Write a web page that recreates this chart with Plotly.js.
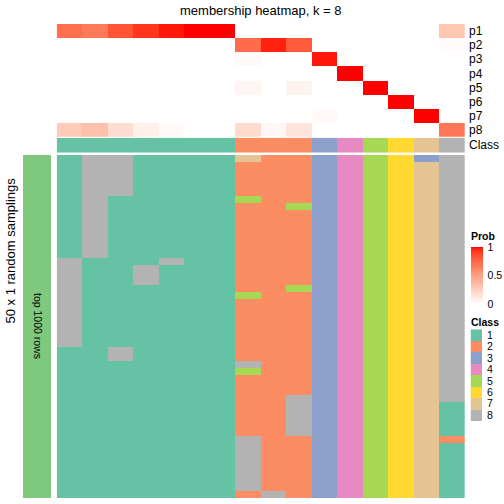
<!DOCTYPE html>
<html>
<head>
<meta charset="utf-8">
<script src="https://cdn.plot.ly/plotly-3.0.1.min.js"></script>
<style>html,body{margin:0;padding:0;background:#fff;}#chart{width:504px;height:504px;}</style>
</head>
<body>
<div id="chart"></div>
<script>
// ---------------- DATA ----------------
const probRows = ["p1","p2","p3","p4","p5","p6","p7","p8"];
const sampleIdx = [0,1,2,3,4,5,6,7,8,9,10,11,12,13,14,15];
const p1 = [0.72,0.67,0.82,0.92,0.97,1.00,1.00,0.00,0.00,0.00,0.00,0.00,0.00,0.00,0.00,0.30];
const p2 = [0.00,0.00,0.00,0.00,0.00,0.00,0.00,0.73,0.96,0.80,0.00,0.00,0.00,0.00,0.00,0.02];
const p3 = [0.00,0.00,0.00,0.00,0.00,0.00,0.00,0.03,0.00,0.00,0.97,0.00,0.00,0.00,0.00,0.00];
const p4 = [0.00,0.00,0.00,0.00,0.00,0.00,0.00,0.00,0.00,0.00,0.00,1.00,0.00,0.00,0.00,0.00];
const p5 = [0.00,0.00,0.00,0.00,0.00,0.00,0.00,0.05,0.00,0.06,0.00,0.00,1.00,0.00,0.00,0.00];
const p6 = [0.00,0.00,0.00,0.00,0.00,0.00,0.00,0.00,0.00,0.00,0.00,0.00,0.00,1.00,0.00,0.00];
const p7 = [0.00,0.00,0.00,0.00,0.00,0.00,0.00,0.00,0.00,0.00,0.03,0.00,0.00,0.00,1.00,0.00];
const p8 = [0.28,0.33,0.18,0.08,0.03,0.00,0.00,0.19,0.04,0.14,0.00,0.00,0.00,0.00,0.00,0.68];
const sampleClass = [1,1,1,1,1,1,1,2,2,2,3,4,5,6,7,8];
const classLabels = ["1","2","3","4","5","6","7","8"];
const probTicks = [0, 0.5, 1];
const probTickText = ["0","0.5","1"];

// class assignment in each of the 50 random samplings, one array per sample (column)
const s1  = [1,1,1,1,1,1,1,1,1,1,1,1,1,1,1,8,8,8,8,8,8,8,8,8,8,8,8,8,1,1,1,1,1,1,1,1,1,1,1,1,1,1,1,1,1,1,1,1,1,1];
const s2  = [8,8,8,8,8,8,8,8,8,8,8,8,8,8,8,1,1,1,1,1,1,1,1,1,1,1,1,1,1,1,1,1,1,1,1,1,1,1,1,1,1,1,1,1,1,1,1,1,1,1];
const s3  = [8,8,8,8,8,8,1,1,1,1,1,1,1,1,1,1,1,1,1,1,1,1,1,1,1,1,1,1,8,8,1,1,1,1,1,1,1,1,1,1,1,1,1,1,1,1,1,1,1,1];
const s4  = [1,1,1,1,1,1,1,1,1,1,1,1,1,1,1,1,8,8,8,1,1,1,1,1,1,1,1,1,1,1,1,1,1,1,1,1,1,1,1,1,1,1,1,1,1,1,1,1,1,1];
const s5  = [1,1,1,1,1,1,1,1,1,1,1,1,1,1,1,8,1,1,1,1,1,1,1,1,1,1,1,1,1,1,1,1,1,1,1,1,1,1,1,1,1,1,1,1,1,1,1,1,1,1];
const s6  = [1,1,1,1,1,1,1,1,1,1,1,1,1,1,1,1,1,1,1,1,1,1,1,1,1,1,1,1,1,1,1,1,1,1,1,1,1,1,1,1,1,1,1,1,1,1,1,1,1,1];
const s7  = [1,1,1,1,1,1,1,1,1,1,1,1,1,1,1,1,1,1,1,1,1,1,1,1,1,1,1,1,1,1,1,1,1,1,1,1,1,1,1,1,1,1,1,1,1,1,1,1,1,1];
const s8  = [7,2,2,2,2,2,5,2,2,2,2,2,2,2,2,2,2,2,2,2,5,2,2,2,2,2,2,2,2,2,8,5,2,2,2,2,2,2,2,2,2,8,8,8,8,8,8,8,8,2];
const s9  = [2,2,2,2,2,2,2,2,2,2,2,2,2,2,2,2,2,2,2,2,2,2,2,2,2,2,2,2,2,2,2,2,2,2,2,2,2,2,2,2,2,2,2,2,2,2,2,2,2,8];
const s10 = [2,2,2,2,2,2,2,5,2,2,2,2,2,2,2,2,2,2,2,5,2,2,2,2,2,2,2,2,2,2,2,2,2,2,2,8,8,8,8,8,8,2,2,2,2,2,2,2,2,2];
const s11 = [3,3,3,3,3,3,3,3,3,3,3,3,3,3,3,3,3,3,3,3,3,3,3,3,3,3,3,3,3,3,3,3,3,3,3,3,3,3,3,3,3,3,3,3,3,3,3,3,3,3];
const s12 = [4,4,4,4,4,4,4,4,4,4,4,4,4,4,4,4,4,4,4,4,4,4,4,4,4,4,4,4,4,4,4,4,4,4,4,4,4,4,4,4,4,4,4,4,4,4,4,4,4,4];
const s13 = [5,5,5,5,5,5,5,5,5,5,5,5,5,5,5,5,5,5,5,5,5,5,5,5,5,5,5,5,5,5,5,5,5,5,5,5,5,5,5,5,5,5,5,5,5,5,5,5,5,5];
const s14 = [6,6,6,6,6,6,6,6,6,6,6,6,6,6,6,6,6,6,6,6,6,6,6,6,6,6,6,6,6,6,6,6,6,6,6,6,6,6,6,6,6,6,6,6,6,6,6,6,6,6];
const s15 = [3,7,7,7,7,7,7,7,7,7,7,7,7,7,7,7,7,7,7,7,7,7,7,7,7,7,7,7,7,7,7,7,7,7,7,7,7,7,7,7,7,7,7,7,7,7,7,7,7,7];
const s16 = [8,8,8,8,8,8,8,8,8,8,8,8,8,8,8,8,8,8,8,8,8,8,8,8,8,8,8,8,8,8,8,8,8,8,8,8,1,1,1,1,1,2,1,1,1,1,1,1,1,1];

// ---------------- STYLE ----------------
const W = 504, H = 504;
const FONT = "Liberation Sans, Arial, Helvetica, sans-serif";
const classColors = ["#66C2A5","#FC8D62","#8DA0CB","#E78AC3","#A6D854","#FFD92F","#E5C494","#B3B3B3"];
const topBarColor = "#7FC97F";

function px2x(p){ return p / W; }
function px2y(p){ return 1 - p / H; }

// white -> red interpolated in CIELAB (as circlize colorRamp2 does)
function lab2rgb(L, a, b){
  let y = (L + 16) / 116, x = a / 500 + y, z = y - b / 200;
  const f = t => (t*t*t > 0.008856) ? t*t*t : (t - 16/116) / 7.787;
  x = 0.95047 * f(x); y = 1.0 * f(y); z = 1.08883 * f(z);
  let r = x*3.2406 + y*-1.5372 + z*-0.4986;
  let g = x*-0.9689 + y*1.8758 + z*0.0415;
  let bb = x*0.0557 + y*-0.2040 + z*1.0570;
  const gc = c => { c = c > 0.0031308 ? 1.055*Math.pow(c, 1/2.4) - 0.055 : 12.92*c; return Math.round(Math.max(0, Math.min(1, c))*255); };
  return "rgb(" + gc(r) + "," + gc(g) + "," + gc(bb) + ")";
}
const probScale = [];
for (let i = 0; i <= 20; i++) {
  const t = i / 20;
  probScale.push([t, lab2rgb(100 - 46.76*t, 80.09*t, 67.20*t)]);
}
const classScale = [];
classColors.forEach((c, i) => { classScale.push([i/8, c]); classScale.push([(i+1)/8, c]); });

// ---------------- TRACES ----------------
const probZ = [p1,p2,p3,p4,p5,p6,p7,p8];
const samplings = [s1,s2,s3,s4,s5,s6,s7,s8,s9,s10,s11,s12,s13,s14,s15,s16];
const nRuns = s1.length;
const runIdx = []; for (let r = 0; r < nRuns; r++) runIdx.push(r);
const runZ = runIdx.map(r => samplings.map(col => col[r]));

const traces = [
  { type: "heatmap", x: sampleIdx, y: probRows, z: probZ, xaxis: "x", yaxis: "y",
    colorscale: probScale, zmin: 0, zmax: 1, hoverinfo: "skip",
    colorbar: { x: px2x(470.5), xanchor: "left", xref: "paper", y: px2y(247), yanchor: "top", yref: "paper",
      len: 57, lenmode: "pixels", thickness: 11.5, thicknessmode: "pixels",
      outlinewidth: 0, xpad: 0, ypad: 0, tickmode: "array", tickvals: probTicks, ticktext: probTickText,
      ticks: "outside", ticklen: 3, tickcolor: "#ffffff",
      tickfont: { family: FONT, size: 10.5, color: "#000" } } },
  { type: "heatmap", x: sampleIdx, y: ["Class"], z: [sampleClass], xaxis: "x", yaxis: "y2",
    colorscale: classScale, zmin: 0.5, zmax: 8.5, showscale: false, hoverinfo: "skip" },
  { type: "heatmap", x: sampleIdx, y: runIdx, z: runZ, xaxis: "x", yaxis: "y3",
    colorscale: classScale, zmin: 0.5, zmax: 8.5, showscale: false, hoverinfo: "skip" },
  { type: "heatmap", x: [0], y: [0], z: [[1]], xaxis: "x2", yaxis: "y4",
    colorscale: [[0, topBarColor],[1, topBarColor]], showscale: false, hoverinfo: "skip" },
  { type: "heatmap", x: [0], y: classLabels, z: classLabels.map(v => [Number(v)]), xaxis: "x3", yaxis: "y5",
    colorscale: classScale, zmin: 0.5, zmax: 8.5, showscale: false, hoverinfo: "skip" }
];

const hidden = { showgrid: false, zeroline: false, showticklabels: false, ticks: "", showline: false, fixedrange: true };
const mainX = [px2x(56.7), px2x(465)];
const layout = {
  width: W, height: H, margin: { l: 0, r: 0, t: 0, b: 0, pad: 0 },
  paper_bgcolor: "#fff", plot_bgcolor: "#fff",
  font: { family: FONT, size: 12, color: "#000" },
  showlegend: false,
  xaxis:  Object.assign({}, hidden, { domain: mainX, anchor: "y3", range: [-0.5, 15.5] }),
  yaxis:  Object.assign({}, hidden, { domain: [px2y(136.7), px2y(24)], anchor: "x", autorange: "reversed",
            side: "right", showticklabels: true, ticklabelstandoff: 3, tickmode: "array", tickvals: probRows,
            tickfont: { family: FONT, size: 12, color: "#000" }, type: "category" }),
  yaxis2: Object.assign({}, hidden, { domain: [px2y(152.7), px2y(137.7)], anchor: "x",
            side: "right", showticklabels: true, ticklabelstandoff: 3,
            tickfont: { family: FONT, size: 12, color: "#000" }, type: "category" }),
  yaxis3: Object.assign({}, hidden, { domain: [px2y(498), px2y(155)], anchor: "x", autorange: "reversed" }),
  xaxis2: Object.assign({}, hidden, { domain: [px2x(23), px2x(51)], anchor: "y4" }),
  yaxis4: Object.assign({}, hidden, { domain: [px2y(498), px2y(155)], anchor: "x2" }),
  xaxis3: Object.assign({}, hidden, { domain: [px2x(470.5), px2x(482)], anchor: "y5" }),
  yaxis5: Object.assign({}, hidden, { domain: [px2y(421), px2y(329.3)], anchor: "x3", autorange: "reversed",
            side: "right", showticklabels: true, ticklabelstandoff: 4, tickmode: "array", tickvals: classLabels,
            type: "category", tickfont: { family: FONT, size: 10.5, color: "#000" } }),
  annotations: [
    { text: "membership heatmap, k = 8", xref: "paper", yref: "paper", x: px2x(260.9), y: px2y(10.5),
      xanchor: "center", yanchor: "middle", showarrow: false, font: { family: FONT, size: 13, color: "#000" } },
    { text: "50 x 1 random samplings", xref: "paper", yref: "paper", x: px2x(9.5), y: px2y(251),
      xanchor: "center", yanchor: "middle", textangle: -90, showarrow: false, font: { family: FONT, size: 13, color: "#000" } },
    { text: "top 1000 rows", xref: "paper", yref: "paper", x: px2x(38), y: px2y(326),
      xanchor: "center", yanchor: "middle", textangle: 90, showarrow: false, font: { family: FONT, size: 10.5, color: "#000" } },
    { text: "<b>Prob</b>", xref: "paper", yref: "paper", x: px2x(469), y: px2y(236),
      xanchor: "left", yanchor: "middle", showarrow: false, font: { family: FONT, size: 10.5, color: "#000" } },
    { text: "<b>Class</b>", xref: "paper", yref: "paper", x: px2x(469), y: px2y(321.5),
      xanchor: "left", yanchor: "middle", showarrow: false, font: { family: FONT, size: 10.5, color: "#000" } }
  ]
};

Plotly.newPlot("chart", traces, layout, { staticPlot: true, displayModeBar: false });
</script>
</body>
</html>
